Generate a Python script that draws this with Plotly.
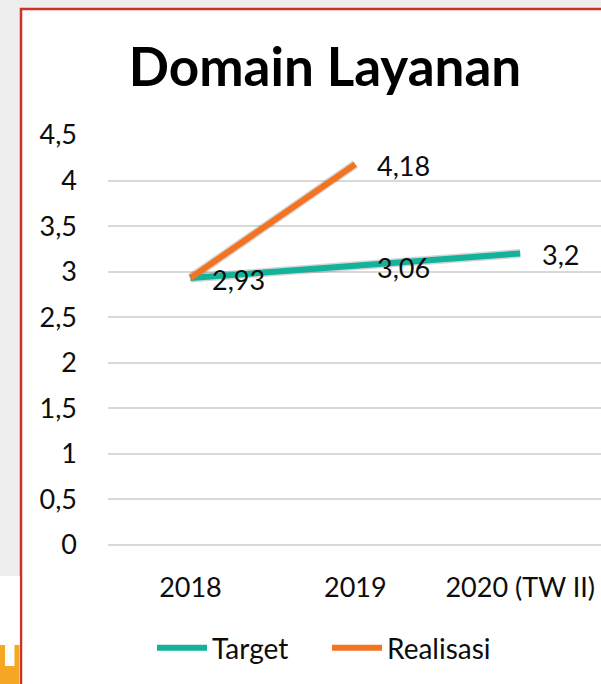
import plotly.graph_objects as go

categories = ["2018", "2019", "2020 (TW II)"]
target = [2.93, 3.06, 3.2]
realisasi = [2.93, 4.18, None]
target_labels = ["2,93", "3,06", "3,2"]
realisasi_labels = [None, "4,18", None]
y_ticks = [0, 0.5, 1, 1.5, 2, 2.5, 3, 3.5, 4, 4.5]
y_tick_text = ["0", "0,5", "1", "1,5", "2", "2,5", "3", "3,5", "4", "4,5"]

TEAL = "#12b29b"
ORANGE = "#f37321"
TXT = "#0d0d0d"
FONT = "Lato"
FS = 27

W, H = 601, 684
L, R, T, B = 108, 0, 135, 139
pw, ph = W - L - R, H - T - B

def px(x):
    return (x - L) / pw

def py(y):
    return (H - B - y) / ph

fig = go.Figure()

for vals in (target, realisasi):
    fig.add_trace(go.Scatter(x=categories, y=vals, mode="lines",
                             line=dict(color="rgba(0,0,0,0.16)", width=9),
                             hoverinfo="skip", showlegend=False))

fig.add_trace(go.Scatter(x=categories, y=target, mode="lines", name="Target",
                         line=dict(color=TEAL, width=6)))
fig.add_trace(go.Scatter(x=categories, y=realisasi, mode="lines", name="Realisasi",
                         line=dict(color=ORANGE, width=6)))

annotations = []
for series, labels in ((target, target_labels), (realisasi, realisasi_labels)):
    for i, (val, lab) in enumerate(zip(series, labels)):
        if lab is None:
            continue
        annotations.append(dict(x=i, y=val, xref="x", yref="y", text=lab, showarrow=False,
                                xanchor="left", yanchor="middle", xshift=20, yshift=-1,
                                font=dict(size=FS, color=TXT, family=FONT)))

shapes = [
    dict(type="rect", xref="paper", yref="paper", layer="below",
         x0=px(21), x1=px(640), y0=py(9), y1=py(720),
         fillcolor="white", line=dict(color="#cc3322", width=2.5)),
    dict(type="rect", xref="paper", yref="paper", layer="below",
         x0=px(-5), x1=px(19.8), y0=py(576), y1=py(720),
         fillcolor="white", line=dict(width=0)),
    dict(type="rect", xref="paper", yref="paper", layer="below",
         x0=px(-5), x1=px(19.5), y0=py(645), y1=py(720),
         fillcolor="#f5a623", line=dict(width=0)),
    dict(type="rect", xref="paper", yref="paper", layer="below",
         x0=px(5), x1=px(14.5), y0=py(643), y1=py(666),
         fillcolor="white", line=dict(width=0)),
]

fig.update_layout(
    width=W, height=H,
    margin=dict(l=L, r=R, t=T, b=B, autoexpand=False),
    paper_bgcolor="#efeeee",
    plot_bgcolor="rgba(0,0,0,0)",
    separators=",.",
    shapes=shapes,
    annotations=annotations,
    title=dict(text="<b>Domain Layanan</b>", xref="container", x=325 / W, xanchor="center",
               yref="container", y=1 - 67 / H, yanchor="middle",
               font=dict(size=53, color="#000000", family=FONT)),
    xaxis=dict(type="category", range=[-0.5, 2.49], showgrid=False, zeroline=False, showline=False,
               ticks="", tickfont=dict(size=FS, color=TXT, family=FONT),
               ticklabelstandoff=24),
    yaxis=dict(range=[0, 4.5], tickvals=y_ticks, ticktext=y_tick_text,
               showgrid=True, gridcolor="#d9d9d9", gridwidth=1.5,
               zeroline=True, zerolinecolor="#d9d9d9", zerolinewidth=1.5,
               showline=False, ticks="",
               tickfont=dict(size=FS, color=TXT, family=FONT),
               ticklabelstandoff=30),
    legend=dict(orientation="h", x=px(327), xanchor="center", y=py(648), yanchor="middle",
                font=dict(size=28, color=TXT, family=FONT),
                entrywidth=110, entrywidthmode="pixels",
                bgcolor="rgba(0,0,0,0)", itemwidth=50, tracegroupgap=0),
    showlegend=True,
)

fig.write_html("out.html", config={"displayModeBar": False},
               post_script="document.body.style.margin='0';document.body.style.overflow='hidden';")
